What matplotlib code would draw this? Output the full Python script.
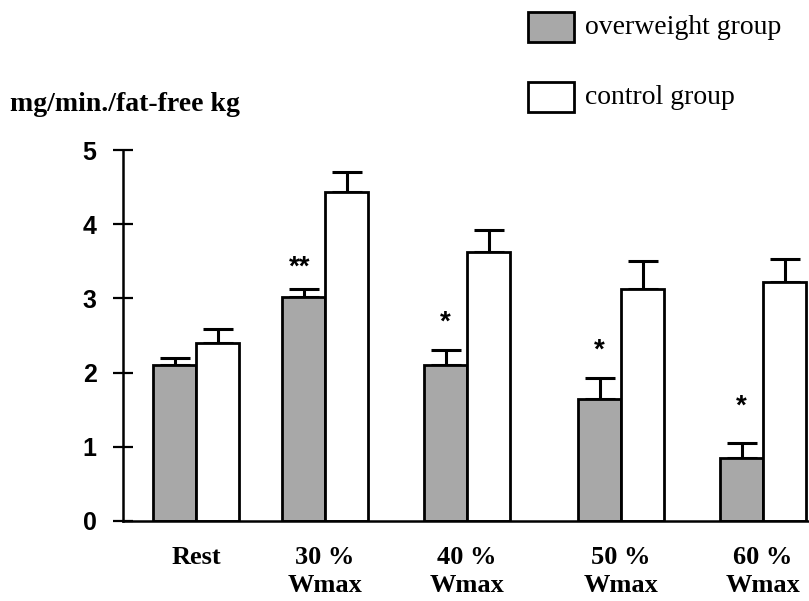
import matplotlib
matplotlib.use("Agg")
import matplotlib.pyplot as plt
from matplotlib.patches import Rectangle

# ---- data ----
categories = ["Rest", "30 %\nWmax", "40 %\nWmax", "50 %\nWmax", "60 %\nWmax"]
overweight_mean = [2.10, 3.02, 2.10, 1.64, 0.85]
overweight_err = [0.10, 0.10, 0.20, 0.29, 0.20]
control_mean = [2.40, 4.43, 3.62, 3.13, 3.22]
control_err = [0.19, 0.27, 0.30, 0.37, 0.31]
significance = ["", "**", "*", "*", "*"]
sig_height = [0, 3.42, 2.68, 2.30, 1.54]
y_ticks = [0, 1, 2, 3, 4, 5]
y_label = "mg/min./fat-free kg"
legend_labels = ["overweight group", "control group"]

# ---- layout ----
group_pos = [73, 202, 344, 498, 640]
bar_w = 43
gray = "#a8a8a8"
serif = ["Liberation Serif", "DejaVu Serif"]
sans = ["Liberation Sans", "DejaVu Sans"]

W, H = 809, 601
fig = plt.figure(figsize=(W / 100, H / 100), dpi=100)
ax = fig.add_axes([123 / W, 1 - 521 / H, (W - 123) / W, (521 - 150) / H])

ow_x = [g - bar_w / 2 for g in group_pos]
ct_x = [g + bar_w / 2 for g in group_pos]

ax.bar(ow_x, overweight_mean, width=bar_w, color=gray, edgecolor="black",
       linewidth=2.0, zorder=2)
ax.bar(ct_x, control_mean, width=bar_w, color="white", edgecolor="black",
       linewidth=2.0, zorder=2)
ax.errorbar(ow_x, overweight_mean, yerr=[[0] * 5, overweight_err], fmt="none",
            ecolor="black", elinewidth=2.2, capsize=11, capthick=2.2,
            zorder=1, clip_on=False)
ax.errorbar(ct_x, control_mean, yerr=[[0] * 5, control_err], fmt="none",
            ecolor="black", elinewidth=2.2, capsize=11, capthick=2.2,
            zorder=1, clip_on=False)

for x, s, h in zip(ow_x, significance, sig_height):
    if s:
        ax.text(x - (4 if len(s) > 1 else 0), h, s, ha="center", va="center",
                fontsize=20, fontweight="bold", family=sans)

ax.set_xlim(0, W - 123)
ax.set_ylim(0, 5)
ax.set_yticks(y_ticks)
ax.set_yticklabels([str(t) for t in y_ticks], family=sans, fontweight="bold",
                   fontsize=18)
ax.set_xticks(group_pos)
ax.set_xticklabels(categories, family=serif, fontweight="bold", fontsize=19,
                   linespacing=1.3)
ax.tick_params(axis="y", direction="inout", length=14, width=1.6, pad=12)
ax.tick_params(axis="x", length=0, pad=18)
for sp in ["top", "right"]:
    ax.spines[sp].set_visible(False)
for sp in ["left", "bottom"]:
    ax.spines[sp].set_linewidth(1.8)

# y-axis title
fig.text(10 / W, 1 - 104 / H, y_label, family=serif, fontweight="bold",
         fontsize=20, ha="left", va="center")

# legend
fills = [gray, "white"]
box_tops = [12, 82]
for lab, fc, top in zip(legend_labels, fills, box_tops):
    fig.patches.append(Rectangle((528 / W, 1 - (top + 30) / H), 46 / W, 30 / H,
                                 facecolor=fc, edgecolor="black", linewidth=2,
                                 transform=fig.transFigure))
    fig.text(585 / W, 1 - (top + 16) / H, lab, family=serif, fontsize=20,
             ha="left", va="center")

fig.savefig("out.png", dpi=100)
